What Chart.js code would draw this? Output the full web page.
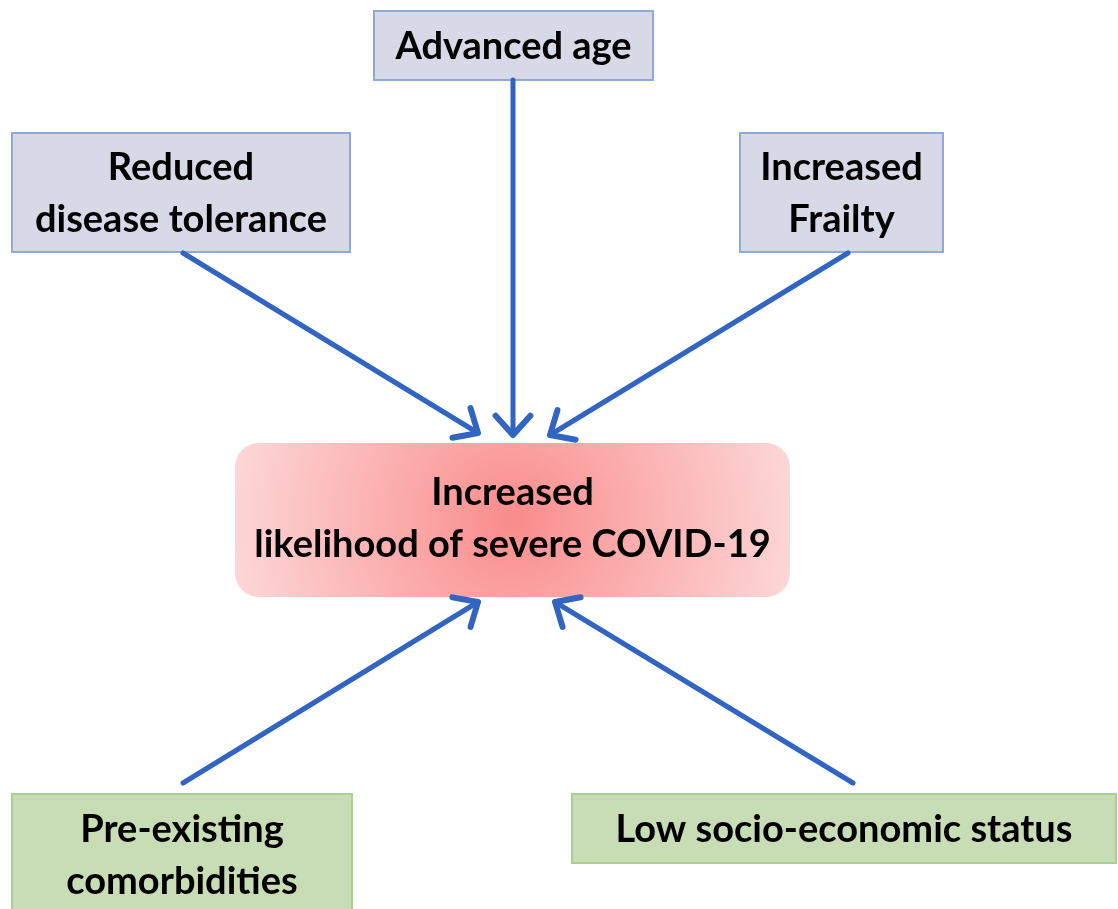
<!DOCTYPE html>
<html>
<head>
<meta charset="utf-8">
<script src="https://cdn.jsdelivr.net/npm/chart.js@4"></script>
<style>
  html, body { margin: 0; padding: 0; background: #fff; }
  #wrap { width: 1118px; height: 909px; }
</style>
</head>
<body>
<div id="wrap"><canvas id="diagram" width="1118" height="909"></canvas></div>
<script>
// diagram nodes, in page units (x to the right, y downward)
const nodeLabels = [
    ['Advanced age'],
    ['Reduced', 'disease tolerance'],
    ['Increased', 'Frailty'],
    ['Increased', 'likelihood of severe COVID-19'],
    ['Pre-existing', 'comorbidities'],
    ['Low socio-economic status']
];
const nodeKind = ['factor', 'factor', 'factor', 'outcome', 'risk', 'risk'];
const nodeLeft = [374, 12, 740, 235, 12, 572];
const nodeTop = [11, 133, 133, 443, 794, 794];
const nodeRight = [653, 350, 943, 790, 352, 1116];
const nodeBottom = [80, 252, 252, 597, 925, 863];
// vertical centre of each label block
const labelMidY = [47, 194, 194, 519, 856, 830];

// arrows: start and end points
const arrowFromX = [513, 183, 848, 183, 853];
const arrowFromY = [80, 253, 253, 783, 783];
const arrowToX = [513, 478, 550, 478, 555];
const arrowToY = [435, 433, 435, 602, 602];

const ARROW = '#3165c1';
const FONT = "bold 38px Lato, 'Open Sans', sans-serif";

const boxStyles = {
    factor: { fill: '#d7dae6', stroke: '#8eaadb' },
    risk: { fill: '#c8dcb5', stroke: '#a9d18e' }
};

function px(chart, x, y) {
    return [chart.scales.x.getPixelForValue(x), chart.scales.y.getPixelForValue(y)];
}

function roundRect(ctx, x, y, w, h, r) {
    ctx.beginPath();
    ctx.moveTo(x + r, y);
    ctx.arcTo(x + w, y, x + w, y + h, r);
    ctx.arcTo(x + w, y + h, x, y + h, r);
    ctx.arcTo(x, y + h, x, y, r);
    ctx.arcTo(x, y, x + w, y, r);
    ctx.closePath();
}

const boxesPlugin = {
    id: 'boxes',
    beforeDatasetsDraw(chart) {
        const ctx = chart.ctx;
        ctx.save();
        nodeLabels.forEach((lines, i) => {
            const [x0, y0] = px(chart, nodeLeft[i], nodeTop[i]);
            const [x1, y1] = px(chart, nodeRight[i], nodeBottom[i]);
            const w = x1 - x0, h = y1 - y0;
            if (nodeKind[i] === 'outcome') {
                const cx = x0 + w / 2, cy = y0 + h / 2;
                const g = ctx.createRadialGradient(cx, cy, 0, cx, cy, w * 0.55);
                g.addColorStop(0, '#f98b8b');
                g.addColorStop(0.35, '#fba9a9');
                g.addColorStop(1, '#fddcdc');
                roundRect(ctx, x0, y0, w, h, 24);
                ctx.fillStyle = g;
                ctx.fill();
            } else {
                const st = boxStyles[nodeKind[i]];
                ctx.fillStyle = st.fill;
                ctx.fillRect(x0, y0, w, h);
                ctx.strokeStyle = st.stroke;
                ctx.lineWidth = 2;
                ctx.strokeRect(x0, y0, w, h);
            }
        });
        ctx.restore();
    },
    afterDatasetsDraw(chart) {
        const ctx = chart.ctx;
        ctx.save();
        // arrow heads
        chart.data.datasets.forEach((ds, i) => {
            const meta = chart.getDatasetMeta(i);
            const a = meta.data[0], b = meta.data[1];
            const ang = Math.atan2(b.y - a.y, b.x - a.x);
            const len = 26, spread = Math.PI / 4.3;
            ctx.strokeStyle = ds.borderColor;
            ctx.lineWidth = 6;
            ctx.lineCap = 'round';
            ctx.lineJoin = 'round';
            ctx.beginPath();
            ctx.moveTo(b.x - len * Math.cos(ang - spread), b.y - len * Math.sin(ang - spread));
            ctx.lineTo(b.x, b.y);
            ctx.lineTo(b.x - len * Math.cos(ang + spread), b.y - len * Math.sin(ang + spread));
            ctx.stroke();
        });
        // labels
        ctx.fillStyle = '#000';
        ctx.font = FONT;
        ctx.textAlign = 'center';
        ctx.textBaseline = 'middle';
        const lh = 52;
        nodeLabels.forEach((lines, i) => {
            const [x0] = px(chart, nodeLeft[i], 0);
            const [x1] = px(chart, nodeRight[i], 0);
            lines.forEach((t, k) => {
                const yy = labelMidY[i] + (k - (lines.length - 1) / 2) * lh;
                const [, py] = px(chart, 0, yy);
                ctx.fillText(t, (x0 + x1) / 2, py);
            });
        });
        ctx.restore();
    }
};

const datasets = arrowFromX.map((x, i) => ({
    data: [{ x: x, y: arrowFromY[i] }, { x: arrowToX[i], y: arrowToY[i] }],
    showLine: true,
    borderColor: ARROW,
    borderWidth: 5,
    pointRadius: 0,
    borderCapStyle: 'round'
}));

new Chart(document.getElementById('diagram'), {
    type: 'scatter',
    data: { datasets },
    options: {
        responsive: false,
        animation: false,
        layout: { padding: 0 },
        plugins: { legend: { display: false }, tooltip: { enabled: false } },
        scales: {
            x: { type: 'linear', min: 0, max: 1118, display: false },
            y: { type: 'linear', min: 0, max: 909, reverse: true, display: false }
        }
    },
    plugins: [boxesPlugin]
});
</script>
</body>
</html>
